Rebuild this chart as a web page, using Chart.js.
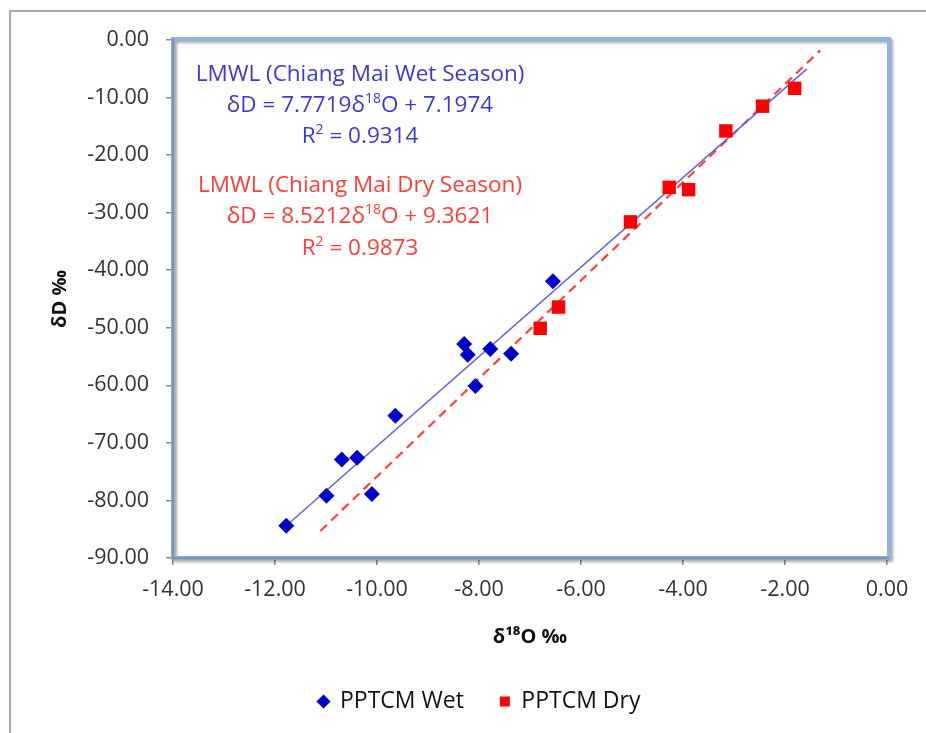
<!DOCTYPE html>
<html><head><meta charset="utf-8">
<script src="https://cdn.jsdelivr.net/npm/chart.js@4"></script>
<style>html,body{margin:0;padding:0;background:#fff}#wrap{width:926px;height:733px;position:relative}</style>
</head><body><div id="wrap"><canvas id="c" width="926" height="733"></canvas></div>
<script>
// ---- data ----
const wetX = [-11.78, -10.99, -10.10, -10.69, -10.39, -9.64, -8.29, -8.22, -8.07, -7.78, -7.37, -6.55];
const wetY = [-84.4, -79.2, -78.9, -72.9, -72.6, -65.3, -52.8, -54.7, -60.1, -53.7, -54.5, -41.9];
const dryX = [-6.80, -6.44, -5.03, -4.27, -3.89, -3.16, -2.44, -1.81];
const dryY = [-50.1, -46.4, -31.6, -25.6, -26.0, -15.8, -11.5, -8.4];
const wetFitX = [-11.78, -1.57];
const wetFitY = [-84.4, -5.0];
const dryFitX = [-11.11, -1.31];
const dryFitY = [-85.3, -1.8];
const seriesNames = ['PPTCM Wet', 'PPTCM Dry'];
const xTitle = 'δ¹⁸O ‰';
const yTitle = 'δD ‰';
const xMin = -14, xMax = 0, xStep = 2;
const yMin = -90, yMax = 0, yStep = 10;
const wetNote = [
  [['LMWL (Chiang Mai Wet Season)', 0]],
  [['δD = 7.7719δ', 0], ['18', 1], ['O + 7.1974', 0]],
  [['R', 0], ['2', 1], [' = 0.9314', 0]]
];
const dryNote = [
  [['LMWL (Chiang Mai Dry Season)', 0]],
  [['δD = 8.5212δ', 0], ['18', 1], ['O + 9.3621', 0]],
  [['R', 0], ['2', 1], [' = 0.9873', 0]]
];

const toPts = (xs, ys) => xs.map((x, i) => ({x: x, y: ys[i]}));
const FONT = '"Open Sans", "Liberation Sans", sans-serif';

const framePlugin = {
  id: 'frame',
  afterLayout(chart) {
    if (chart.legend) { chart.legend.left += 12; chart.legend.right += 12; }
  },
  beforeDraw(chart) {
    const ctx = chart.ctx;
    ctx.save();
    ctx.fillStyle = '#fff';
    ctx.fillRect(0, 0, chart.width, chart.height);
    ctx.strokeStyle = '#a9a9a9';
    ctx.lineWidth = 2;
    ctx.beginPath();
    ctx.moveTo(10, chart.height); ctx.lineTo(10, 11); ctx.lineTo(chart.width, 11);
    ctx.stroke();
    ctx.restore();
  },
  beforeDatasetsDraw(chart) {
    const ctx = chart.ctx, a = chart.chartArea;
    ctx.save();
    ctx.shadowColor = 'rgba(0,0,0,0.35)';
    ctx.shadowOffsetX = 2; ctx.shadowOffsetY = 2; ctx.shadowBlur = 3;
    ctx.strokeStyle = '#8db4e2';
    ctx.lineWidth = 4;
    ctx.strokeRect(a.left, a.top - 1, a.right - a.left + 2, a.bottom - a.top + 1);
    ctx.restore();
    ctx.save();
    ctx.strokeStyle = '#7f95ab';
    ctx.lineWidth = 2.5;
    ctx.beginPath();
    ctx.moveTo(a.left, a.top - 2); ctx.lineTo(a.left, a.bottom); ctx.lineTo(a.right + 2, a.bottom);
    ctx.stroke();
    ctx.restore();
  },
  afterDraw(chart) {
    const ctx = chart.ctx;
    const big = '22.5px ', small = '14px ';
    const drawLines = (lines, color, ys) => {
      lines.forEach((segs, li) => {
        let w = 0;
        segs.forEach(s => { ctx.font = (s[1] ? small : big) + FONT; w += ctx.measureText(s[0]).width; });
        let x = 360 - w / 2;
        segs.forEach(s => {
          ctx.font = (s[1] ? small : big) + FONT;
          ctx.fillStyle = color;
          ctx.textBaseline = 'middle';
          ctx.textAlign = 'left';
          ctx.fillText(s[0], x, ys[li] - (s[1] ? 7 : 0));
          x += ctx.measureText(s[0]).width;
        });
      });
    };
    ctx.save();
    drawLines(wetNote, '#3a3ad4', [75, 106, 137]);
    drawLines(dryNote, '#ff3c3c', [186, 217, 249]);
    ctx.restore();
  }
};

new Chart(document.getElementById('c'), {
  type: 'scatter',
  data: {
    datasets: [
      {label: seriesNames[0], data: toPts(wetX, wetY), pointStyle: 'rectRot', pointRadius: 8, pointHoverRadius: 8,
       backgroundColor: '#0000cc', borderColor: '#0000cc', borderWidth: 0, order: 1},
      {label: seriesNames[1], data: toPts(dryX, dryY), pointStyle: 'rect', pointRadius: 9.5, pointHoverRadius: 9.5,
       backgroundColor: '#ff0000', borderColor: '#ff0000', borderWidth: 0, order: 1},
      {label: 'wetfit', type: 'line', data: toPts(wetFitX, wetFitY), borderColor: '#6666d6', borderWidth: 1.6,
       pointRadius: 0, fill: false, order: 2},
      {label: 'dryfit', type: 'line', data: toPts(dryFitX, dryFitY), borderColor: '#ff4040', borderWidth: 2.2,
       borderDash: [9, 6], pointRadius: 0, fill: false, order: 2}
    ]
  },
  options: {
    responsive: false,
    animation: false,
    layout: {padding: {left: 48, right: 39, top: 40, bottom: 10}},
    plugins: {
      tooltip: {enabled: false},
      legend: {
        position: 'bottom',
        labels: {
          usePointStyle: true, boxWidth: 10, boxHeight: 10, padding: 36,
          color: '#111', font: {family: FONT, size: 23},
          filter: (item) => item.datasetIndex < 2
        }
      }
    },
    scales: {
      x: {
        type: 'linear', min: xMin, max: xMax,
        ticks: {stepSize: xStep, color: '#333', font: {family: FONT, size: 21.5}, padding: 12,
                callback: v => v.toFixed(2), maxRotation: 0},
        grid: {drawOnChartArea: false, drawTicks: true, tickLength: 7, color: '#8a8a8a', lineWidth: 1.5},
        border: {display: false},
        title: {display: true, text: xTitle, color: '#111', font: {family: FONT, size: 20, weight: 'bold'}, padding: {top: 10, bottom: 5}},
        afterFit: s => { s.height = 96; }
      },
      y: {
        type: 'linear', min: yMin, max: yMax,
        ticks: {stepSize: yStep, color: '#333', font: {family: FONT, size: 21.5}, padding: 17,
                callback: v => v.toFixed(2)},
        grid: {drawOnChartArea: false, drawTicks: true, tickLength: 7, color: '#8a8a8a', lineWidth: 1.5},
        border: {display: false},
        title: {display: true, text: yTitle, color: '#111', font: {family: FONT, size: 20, weight: 'bold'}, padding: {top: 0, bottom: 0}},
        afterFit: s => { s.width = 125; }
      }
    }
  },
  plugins: [framePlugin]
});
</script></body></html>
